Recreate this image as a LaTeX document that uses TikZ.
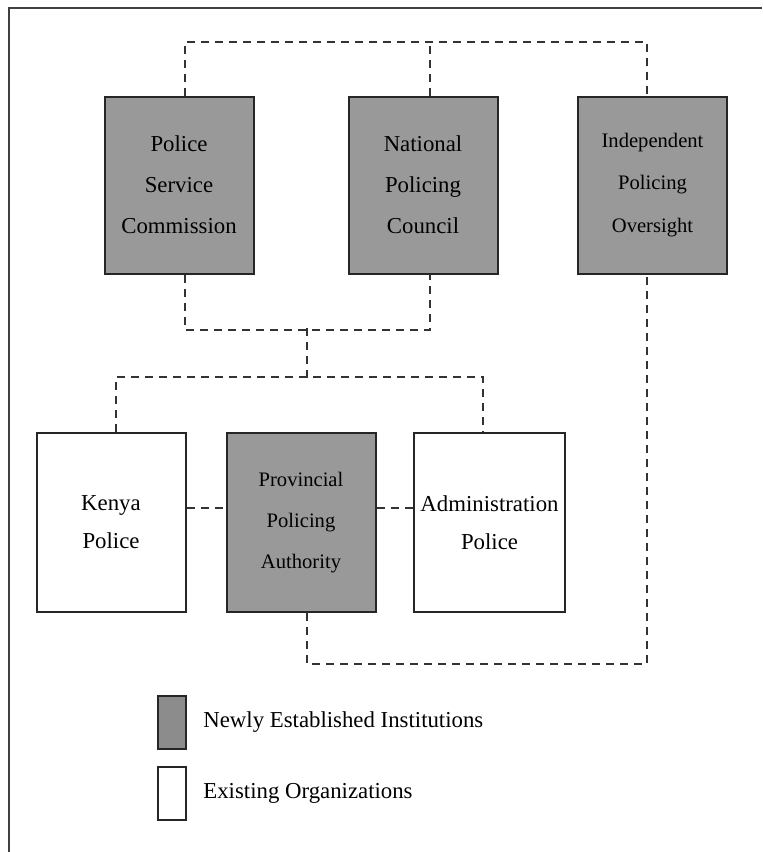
\documentclass[tikz,border=0pt]{standalone}
\usepackage{fontspec}
\setmainfont{Liberation Serif}
\usepackage{tikz}
\usetikzlibrary{positioning}
\definecolor{boxgray}{gray}{0.6}
\definecolor{keygray}{gray}{0.55}
\tikzset{
  instbox/.style={ draw=black!85, line width=1pt, fill=boxgray, minimum width=74.5pt, minimum height=88.5pt, align=center, font=\fontsize{11.4}{20.5}\selectfont }
}
\tikzset{
  orgbox/.style={ draw=black!85, line width=1pt, fill=white, minimum width=74.5pt, minimum height=89.5pt, align=center, font=\fontsize{11.4}{19}\selectfont }
}
\tikzset{
  keybox/.style={ draw=black!85, line width=1pt, minimum width=14pt, minimum height=26.5pt }
}
\tikzset{
  link/.style={ draw=black!80, line width=1pt, dash pattern=on 4pt off 3pt }
}

\begin{document}
\begin{tikzpicture}[x=0.5pt, y=-0.5pt]
      \useasboundingbox (0,0) rectangle (762,852);
      \draw[black!75, line width=1pt] (762,8) -- (9,8) -- (9,852);

      \node[instbox] (psc) at (179,185) {Police\\Service\\Commission};
      \node[instbox] (npc) at (423,185) {National\\Policing\\Council};
      \node[instbox, font=\fontsize{10.3}{21.2}\selectfont] (ipo) at (652.5,185) {Independent\\Policing\\Oversight};

      \node[orgbox] (kenya) at (111,522.5) {Kenya\\Police};
      \node[instbox, minimum height=89.5pt, font=\fontsize{10.3}{20.5}\selectfont] (ppa) at (301,522.5) {Provincial\\Policing\\Authority};
      \node[orgbox] (admin) at (489.5,522.5) {Administration\\Police};

      % dashed links
      \draw[link] ([xshift=3pt]psc.north) -- ++(0,-54) -| ([xshift=-2.75pt]ipo.north);
      \draw[link] ([xshift=3.5pt]npc.north) -- ++(0,-54);
      \draw[link] ([xshift=3pt]psc.south) -- ++(0,55) -| ([xshift=3.5pt]npc.south);
      \coordinate (upjoin) at (307,328);
      \coordinate (downjoin) at (307,378);
      \draw[link] (upjoin) -- (downjoin);
      \draw[link] ([xshift=2.5pt]kenya.north) -- ++(0,-55) -| ([xshift=-3.25pt]admin.north);
      \draw[link] ([yshift=7.5pt]kenya.east) -- ([yshift=7.5pt]ppa.west);
      \draw[link] ([yshift=7.5pt]ppa.east) -- ([yshift=7.5pt]admin.west);
      \draw[link] ([xshift=3pt]ppa.south) -- ++(0,51) -| ([xshift=-2.75pt]ipo.south);

      % key
      \node[keybox, fill=keygray] (newkey) at (172,722) {};
      \node[right=8pt of newkey, inner sep=0pt, font=\fontsize{11.4}{13}\selectfont] (newtext) {Newly Established Institutions};
      \node[keybox, fill=white] (oldkey) at (172,793.5) {};
      \node[right=8pt of oldkey, inner sep=0pt, font=\fontsize{11.4}{13}\selectfont] (oldtext) {Existing Organizations};
    \end{tikzpicture}
\end{document}
